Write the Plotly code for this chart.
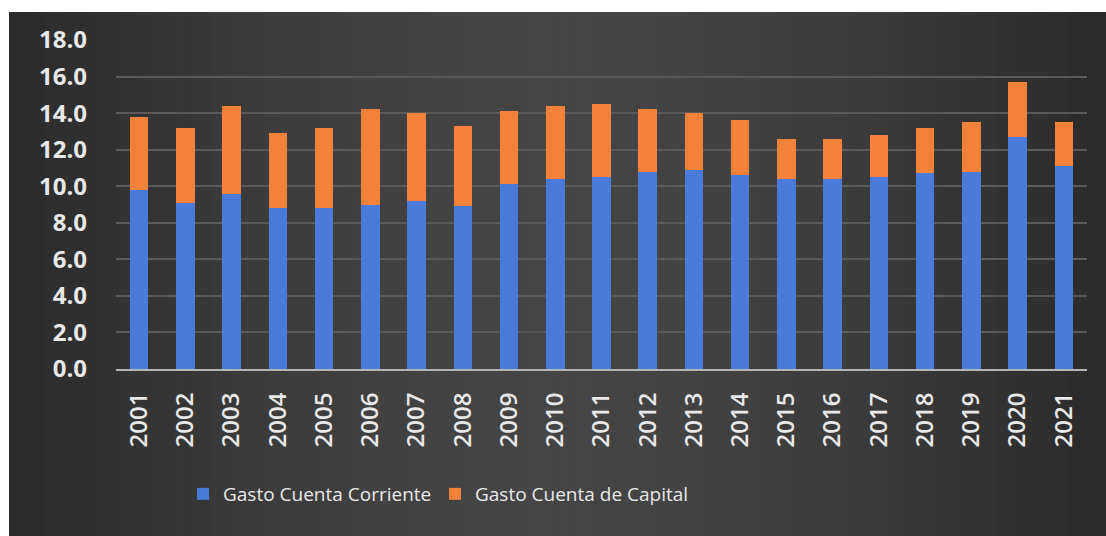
import plotly.graph_objects as go

# Gasto público (% del PIB), 2001-2021
years = ["2001", "2002", "2003", "2004", "2005", "2006", "2007", "2008", "2009", "2010", "2011",
         "2012", "2013", "2014", "2015", "2016", "2017", "2018", "2019", "2020", "2021"]
gasto_corriente = [9.8, 9.1, 9.6, 8.8, 8.8, 9.0, 9.2, 8.9, 10.1, 10.4, 10.5,
                   10.8, 10.9, 10.6, 10.4, 10.4, 10.5, 10.7, 10.8, 12.7, 11.1]
gasto_total = [13.8, 13.2, 14.4, 12.9, 13.2, 14.2, 14.0, 13.3, 14.1, 14.4, 14.5,
               14.2, 14.0, 13.6, 12.6, 12.6, 12.8, 13.2, 13.5, 15.7, 13.5]
gasto_capital = [round(t - c, 1) for t, c in zip(gasto_total, gasto_corriente)]
y_ticks = [0, 2, 4, 6, 8, 10, 12, 14, 16, 18]

W, H = 1106, 536
L, R, T, B = 116, 19, 40, 167
pw, ph = W - L - R, H - T - B

def px_x(p):
    return (p - L) / pw

def px_y(p):
    return 1 - (p - T) / ph

fig = go.Figure()
fig.add_trace(go.Bar(x=years, y=gasto_corriente, name="Gasto Cuenta Corriente",
                     marker=dict(color="#4A7BD8", line=dict(width=0))))
fig.add_trace(go.Bar(x=years, y=gasto_capital, name="Gasto Cuenta de Capital",
                     marker=dict(color="#F5823A", line=dict(width=0))))

# dark panel with a soft horizontal gradient
shapes = []
x0p, x1p, y0p, y1p = 9, W, 12, H
n = 60
for i in range(n):
    a = x0p + (x1p - x0p) * i / n
    b = x0p + (x1p - x0p) * (i + 1) / n
    t = (i + 0.5) / n
    v = int(round(42 + 27 * (1 - abs(2 * t - 1) ** 1.6)))
    col = f"rgb({v},{v},{v})"
    shapes.append(dict(type="rect", xref="paper", yref="paper", layer="below",
                       x0=px_x(a), x1=px_x(b) + 0.001, y0=px_y(y1p), y1=px_y(y0p),
                       fillcolor=col, line=dict(width=0)))

fig.update_layout(
    width=W, height=H,
    barmode="stack", bargap=0.6,
    paper_bgcolor="white", plot_bgcolor="rgba(0,0,0,0)",
    margin=dict(l=L, r=R, t=T, b=B),
    shapes=shapes,
    showlegend=True,
    legend=dict(orientation="h", x=px_x(183), xanchor="left", y=px_y(494), yanchor="middle",
                font=dict(family="Open Sans, Liberation Sans", size=19, color="#E8E8E8"),
                bgcolor="rgba(0,0,0,0)", traceorder="normal", itemwidth=30,
                entrywidth=207, entrywidthmode="pixels"),
    xaxis=dict(type="category", tickangle=-90, showgrid=False,
               showline=True, linecolor="#B4B4B4", linewidth=2, ticks="",
               ticklabelstandoff=12,
               tickfont=dict(family="Open Sans, Liberation Sans", size=24, color="#E8E8E8", weight=600)),
    yaxis=dict(range=[0, 18], tickvals=y_ticks, ticktext=[f"{v:.1f}" for v in y_ticks],
               showgrid=True, gridcolor="#5A5A5A", gridwidth=2, zeroline=False,
               ticks="", ticklen=0, ticklabelstandoff=28,
               tickfont=dict(family="Open Sans, Liberation Sans", size=24, color="#E8E8E8", weight=700)),
)

fig.write_html("out.html")
